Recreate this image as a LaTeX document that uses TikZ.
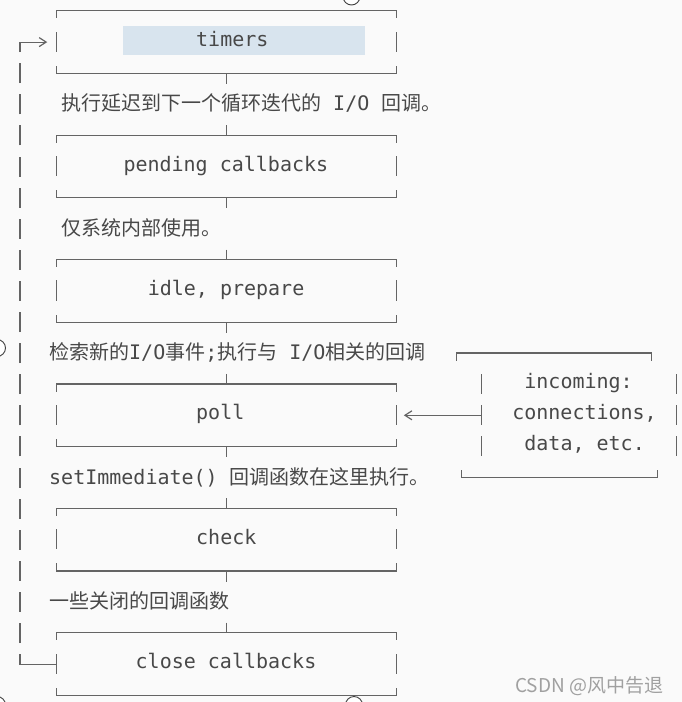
\documentclass[tikz,border=0pt]{standalone}
\usepackage{fontspec}
\setmainfont{DejaVu Sans Mono}
\newfontfamily\cjk{Noto Sans CJK SC}
\usetikzlibrary{arrows.meta}
\definecolor{bgc}{RGB}{250,250,250}
\definecolor{lnc}{RGB}{100,100,100}
\definecolor{txc}{RGB}{72,72,72}
\definecolor{hlc}{RGB}{216,228,238}
\definecolor{wmc}{RGB}{160,160,160}
\newcommand\asciibox[1]{%
  \draw[edge] ([yshift=-7pt]#1.north west) -- (#1.north west) -- (#1.north east) -- ([yshift=-7pt]#1.north east);
  \draw[edge] ([yshift=7pt]#1.south west) -- (#1.south west) -- (#1.south east) -- ([yshift=7pt]#1.south east);
  \draw[edge] ([yshift=10pt]#1.west) -- ([yshift=-9pt]#1.west);
  \draw[edge] ([yshift=10pt]#1.east) -- ([yshift=-9pt]#1.east);
}
\begin{document}
\begin{tikzpicture}[x=1pt,y=-1pt,
  edge/.style={draw=lnc, line width=1.2pt, line cap=rect},
  boxshape/.style={draw=none, minimum width=340.2pt, minimum height=62.2pt, inner sep=0pt},
  lbl/.style={anchor=base west, inner sep=0pt, text=txc, font=\fontsize{20}{24}\selectfont},
  stem/.style={edge, line cap=butt, dash pattern=on 10.5pt off 41.2pt on 11pt off 200pt},
  barb/.style={-{Straight Barb[length=7pt,width=9pt,line width=1.2pt]}}
]
\fill[bgc] (0,0) rectangle (682,702);
\useasboundingbox (0,0) rectangle (682,702);

% highlight behind timers
\fill[hlc] (123,26) rectangle (365,55);

% box shapes
\node[boxshape] (timers)  at (226.55,42.1) {};
\node[boxshape] (pending) at (226.55,166.5) {};
\node[boxshape] (idle)    at (226.55,290.9) {};
\node[boxshape] (poll)    at (226.55,415.3) {};
\node[boxshape] (check)   at (226.55,539.7) {};
\node[boxshape] (close)   at (226.55,664.1) {};
\node[draw=none, minimum width=194.4pt, minimum height=124.4pt, inner sep=0pt] (incoming) at (578.9,415.3) {};

\asciibox{timers}
\asciibox{pending}
\asciibox{idle}
\asciibox{poll}
\asciibox{check}
\asciibox{close}

% incoming box outline (offset like the reference)
\draw[edge] ([xshift=-25pt,yshift=-7pt]incoming.north west) -- ([xshift=-25pt]incoming.north west) -- ([xshift=-25pt]incoming.north east) -- ([xshift=-25pt,yshift=-7pt]incoming.north east);
\draw[edge] ([xshift=-20pt,yshift=7pt]incoming.south west) -- ([xshift=-20pt]incoming.south west) -- ([xshift=-19pt]incoming.south east) -- ([xshift=-19pt,yshift=7pt]incoming.south east);
\foreach \k in {31.1,0,-31.1} {
  \draw[edge] ([yshift=\k pt+10pt]incoming.west) -- ([yshift=\k pt-9pt]incoming.west);
  \draw[edge] ([yshift=\k pt+10pt]incoming.east) -- ([yshift=\k pt-9pt]incoming.east);
}

% labels in boxes
\node[lbl] (timersL)  at (196,46.6)   {timers};
\node[lbl] (pendingL) at (123.3,171.0) {pending callbacks};
\node[lbl] (idleL)    at (147.6,295.4) {idle, prepare};
\node[lbl] (pollL)    at (196,419.8)  {poll};
\node[lbl] (checkL)   at (196,544.2)  {check};
\node[lbl] (closeL)   at (135.5,668.6) {close callbacks};
\node[lbl] (inc1) at (524.2,388.7) {incoming:};
\node[lbl] (inc2) at (512.1,419.8) {connections,};
\node[lbl] (inc3) at (524.2,450.9) {data, etc.};

% description lines
\node[lbl] (t1) at (61,110.8) {{\cjk 执行延迟到下一个循环迭代的} I/O {\cjk 回调。}};
\node[lbl] (t2) at (61,235.2) {{\cjk 仅系统内部使用。}};
\node[lbl] (t3) at (49,359.6) {{\cjk 检索新的}I/O{\cjk 事件};{\cjk 执行与} I/O{\cjk 相关的回调}};
\node[lbl] (t4) at (49,484.0) {setImmediate() {\cjk 回调函数在这里执行。}};
\node[lbl] (t5) at (49,608.4) {{\cjk 一些关闭的回调函数}};

% stems between boxes
\draw[stem] (timers.south) -- (pending.north);
\draw[stem] (pending.south) -- (idle.north);
\draw[stem] (idle.south) -- (poll.north);
\draw[stem] (poll.south) -- (check.north);
\draw[stem] (check.south) -- (close.north);

% incoming -> poll
\draw[edge, barb, shorten >=7pt] (incoming.west) -- (poll.east);

% loop back
\coordinate (lb) at (20,664.1);
\coordinate (lt) at (20,42.1);
\draw[edge] (close.west) -- (lb);
\draw[edge, line cap=butt, dash pattern=on 20pt off 11.1pt, dash phase=10pt] (lb) -- (lt);
\draw[edge, barb, shorten >=9pt] (lt) -- (timers.west);

% selection handles
\foreach \p in {(351.5,-3.5),(-3,348),(-3,705),(354,705)}
  \draw[black!75, line width=0.9pt, fill=white] \p circle (8.5);

% watermark
\node[anchor=base west, inner sep=0pt, text=wmc, font=\cjk\fontsize{19}{22}\selectfont] (wm) at (515,692) {CSDN @风中告退};
\end{tikzpicture}
\end{document}
